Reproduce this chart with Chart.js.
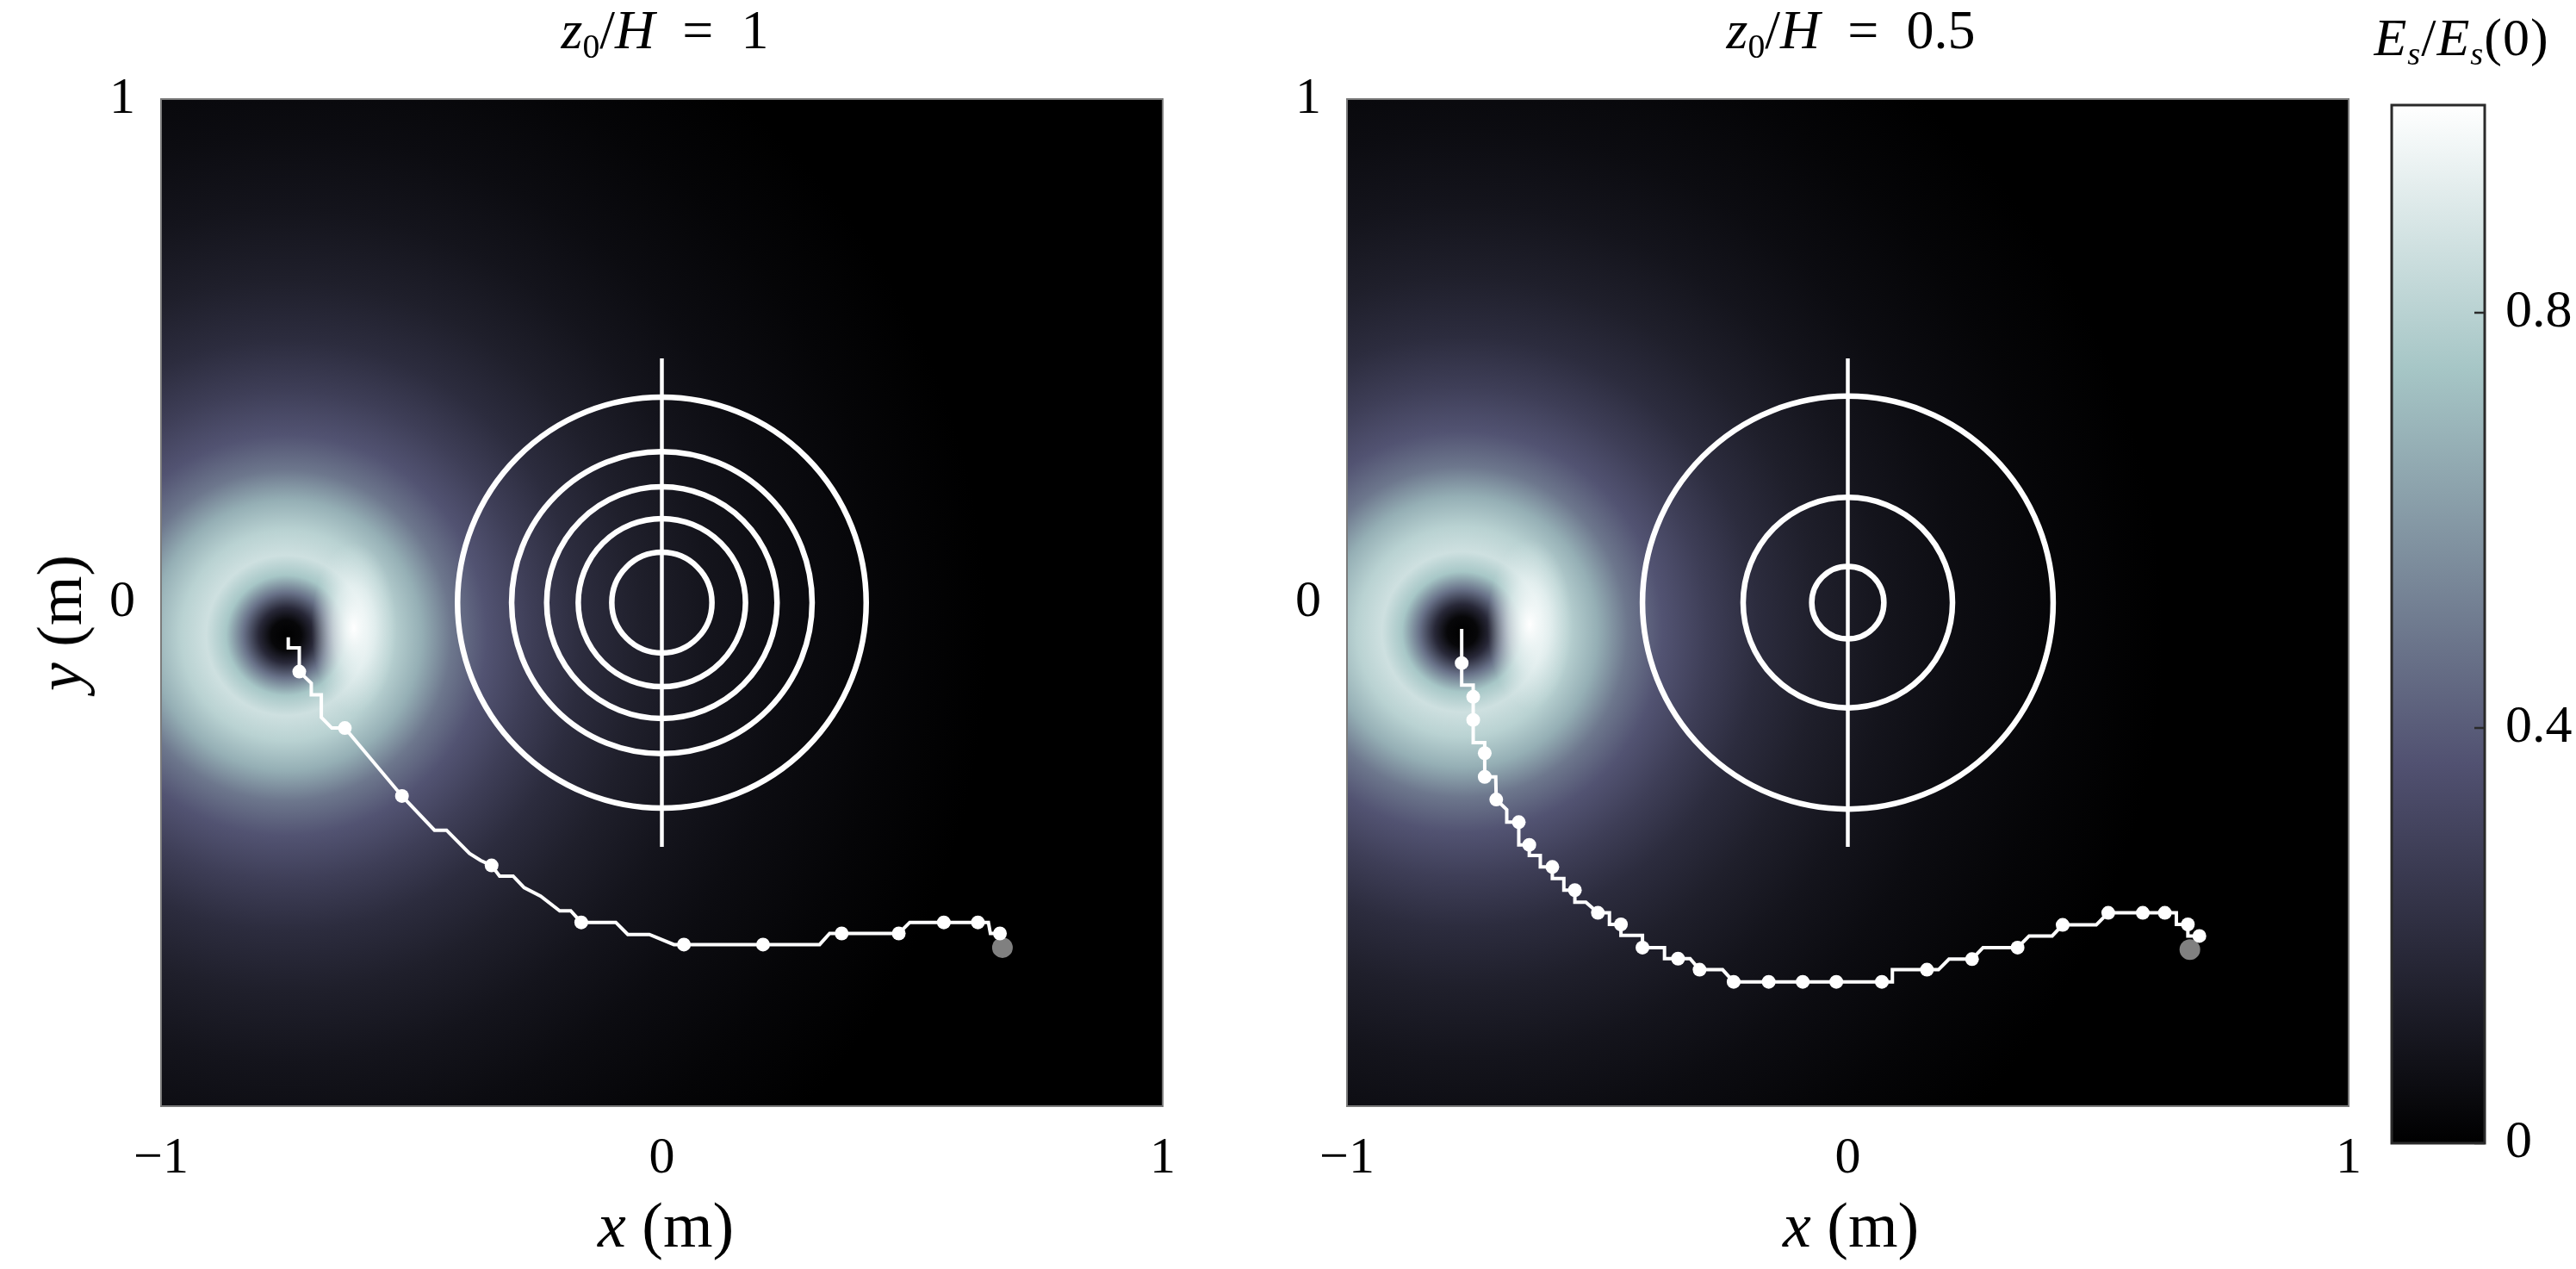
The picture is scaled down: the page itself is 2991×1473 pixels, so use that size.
<!DOCTYPE html>
<html>
<head>
<meta charset="utf-8">
<script src="https://cdn.jsdelivr.net/npm/chart.js@4.4.0/dist/chart.umd.min.js"></script>
<style>
  html, body { margin: 0; padding: 0; background: #fff; }
  body { width: 2991px; height: 1473px; position: relative; overflow: hidden;
         font-family: 'Liberation Serif', 'Times New Roman', serif; color: #000; }
  canvas { position: absolute; top: 0; }
  .lbl { position: absolute; white-space: nowrap; line-height: 1; transform: translateX(-50%); }
  .lbl sub { font-size: 0.62em; vertical-align: -0.28em; font-style: normal; line-height: 0; }
  .eq { margin: 0 0.5em; }
</style>
</head>
<body>
<canvas id="left" width="1390" height="1473" style="left:0px"></canvas>
<canvas id="right" width="1390" height="1473" style="left:1377px"></canvas>
<canvas id="cbar" width="291" height="1473" style="left:2700px"></canvas>

<div class="lbl" style="left:772px; top:3px; font-size:64px"><i>z</i><sub>0</sub>/<i>H</i><span class="eq">=</span>1</div>
<div class="lbl" style="left:2149px; top:3px; font-size:64px"><i>z</i><sub>0</sub>/<i>H</i><span class="eq">=</span>0.5</div>
<div class="lbl" style="left:2858px; top:12px; font-size:62px; letter-spacing:1px"><i>E</i><sub><i>s</i></sub>/<i>E</i><sub><i>s</i></sub>(0)</div>
<div class="lbl" style="left:773px; top:1385px; font-size:74px"><i>x</i> (m)</div>
<div class="lbl" style="left:2149px; top:1385px; font-size:74px"><i>x</i> (m)</div>
<div class="lbl" style="left:69px; top:723px; font-size:74px; transform: translate(-50%, -50%) rotate(-90deg)"><i>y</i> (m)</div>

<script>
// axis ticks
const xTicks = [-1, 0, 1];
const yTicks = [0, 1];
const cbarTicks = [0, 0.4, 0.8];

// z0/H = 1 : robot path (with the step corners) and sampled positions
const pathX1 = [-0.746, -0.746, -0.724, -0.724, -0.700, -0.700, -0.680, -0.680, -0.659, -0.633, -0.519, -0.454, -0.430,
  -0.384, -0.362, -0.340, -0.324, -0.297, -0.275, -0.242, -0.204, -0.182, -0.161, -0.092, -0.068, -0.025, 0.024,
  0.044, 0.202, 0.315, 0.335, 0.359, 0.473, 0.495, 0.563, 0.631, 0.652, 0.656, 0.675];
const pathY1 = [-0.069, -0.090, -0.090, -0.137, -0.160, -0.183, -0.183, -0.228, -0.249, -0.249, -0.384, -0.452, -0.452,
  -0.498, -0.512, -0.522, -0.543, -0.543, -0.566, -0.583, -0.612, -0.612, -0.635, -0.635, -0.659, -0.659, -0.679,
  -0.679, -0.679, -0.679, -0.657, -0.657, -0.657, -0.635, -0.635, -0.635, -0.635, -0.657, -0.657];
const dotX1 = [-0.724, -0.633, -0.519, -0.340, -0.161, 0.044, 0.202, 0.359, 0.473, 0.563, 0.631, 0.675];
const dotY1 = [-0.137, -0.249, -0.384, -0.522, -0.635, -0.679, -0.679, -0.657, -0.657, -0.635, -0.635, -0.657];
const endX1 = [0.680];
const endY1 = [-0.685];
const ringR1 = [0.100, 0.167, 0.230, 0.300, 0.408];
const vortex1 = [-0.750, -0.065];

// z0/H = 0.5
const pathX2 = [-0.771, -0.771, -0.771, -0.748, -0.748, -0.748, -0.748, -0.725, -0.725, -0.725, -0.703, -0.702,
  -0.681, -0.681, -0.657, -0.657, -0.636, -0.636, -0.614, -0.614, -0.590, -0.590, -0.567, -0.567, -0.545, -0.545,
  -0.523, -0.499, -0.476, -0.476, -0.453, -0.453, -0.410, -0.410, -0.366, -0.366, -0.339, -0.315, -0.296, -0.250,
  -0.228, -0.158, -0.090, -0.023, 0.068, 0.089, 0.089, 0.158, 0.181, 0.202, 0.248, 0.270, 0.339, 0.362, 0.408,
  0.429, 0.496, 0.520, 0.589, 0.633, 0.656, 0.656, 0.679, 0.679, 0.702];
const pathY2 = [-0.052, -0.120, -0.164, -0.164, -0.187, -0.233, -0.278, -0.278, -0.299, -0.346, -0.346, -0.391,
  -0.411, -0.436, -0.436, -0.481, -0.481, -0.502, -0.502, -0.525, -0.525, -0.548, -0.548, -0.571, -0.571, -0.595,
  -0.595, -0.616, -0.616, -0.639, -0.639, -0.661, -0.661, -0.685, -0.685, -0.707, -0.707, -0.707, -0.729, -0.729,
  -0.753, -0.753, -0.753, -0.753, -0.753, -0.753, -0.729, -0.729, -0.729, -0.708, -0.708, -0.685, -0.685, -0.662,
  -0.662, -0.640, -0.640, -0.616, -0.616, -0.616, -0.616, -0.639, -0.639, -0.662, -0.662];
const dotX2 = [-0.771, -0.748, -0.748, -0.725, -0.725, -0.702, -0.657, -0.636, -0.590, -0.545, -0.499, -0.453,
  -0.410, -0.339, -0.296, -0.228, -0.158, -0.090, -0.023, 0.068, 0.158, 0.248, 0.339, 0.429, 0.520, 0.589,
  0.633, 0.679, 0.702];
const dotY2 = [-0.120, -0.187, -0.233, -0.299, -0.346, -0.391, -0.436, -0.481, -0.525, -0.571, -0.616, -0.639,
  -0.685, -0.707, -0.729, -0.753, -0.753, -0.753, -0.753, -0.753, -0.729, -0.708, -0.685, -0.640, -0.616, -0.616,
  -0.616, -0.639, -0.662];
const endX2 = [0.683];
const endY2 = [-0.689];
const ringR2 = [0.072, 0.209, 0.410];
const vortex2 = [-0.770, -0.058];

// vertical segment through the ring centre
const axisLineX = [0, 0];
const axisLineY = [-0.485, 0.485];

// E_s/E_s(0) against distance from the vortex centre (m)
const fieldR = [0.00, 0.03, 0.055, 0.085, 0.12, 0.16, 0.21, 0.27, 0.33, 0.40, 0.49, 0.59, 0.71, 0.85, 1.00, 1.20, 1.40];
const fieldLevel = [0.00, 0.03, 0.18, 0.47, 0.75, 0.86, 0.80, 0.67, 0.49, 0.37, 0.28, 0.20, 0.14, 0.09, 0.055, 0.022, 0.0];

// matplotlib "bone"
const boneStops = [0, 0.365079, 0.746032, 1];
const boneRGB = [[0, 0, 0], [81, 81, 113], [166, 198, 198], [255, 255, 255]];

function bone(t) {
  t = Math.max(0, Math.min(1, t));
  let i = 0;
  while (i < boneStops.length - 2 && t > boneStops[i + 1]) i++;
  const f = (t - boneStops[i]) / (boneStops[i + 1] - boneStops[i]);
  const c = boneRGB[i].map((v, k) => Math.round(v + (boneRGB[i + 1][k] - v) * f));
  return `rgb(${c[0]}, ${c[1]}, ${c[2]})`;
}

function pts(xs, ys) {
  return xs.map((x, i) => ({ x: x, y: ys[i] }));
}

function fmt(v) {
  return v < 0 ? '\u2212' + Math.abs(v) : String(v);
}

const tickFont = { family: 'Liberation Serif', size: 60 };

// background field, rings and frame of a panel
const fieldPlugin = {
  id: 'field',
  beforeDatasetsDraw(chart, args, opts) {
    const { ctx, chartArea: a, scales: { x, y } } = chart;
    ctx.save();
    ctx.beginPath();
    ctx.rect(a.left, a.top, a.width, a.height);
    ctx.clip();
    ctx.fillStyle = '#000';
    ctx.fillRect(a.left, a.top, a.width, a.height);

    const cx = x.getPixelForValue(opts.vortex[0]);
    const cy = y.getPixelForValue(opts.vortex[1]);
    const rMax = fieldR[fieldR.length - 1];
    const R = x.getPixelForValue(opts.vortex[0] + rMax) - cx;
    const g = ctx.createRadialGradient(cx, cy, 0, cx, cy, R);
    fieldR.forEach((r, i) => g.addColorStop(r / rMax, bone(fieldLevel[i])));
    ctx.fillStyle = g;
    ctx.fillRect(a.left, a.top, a.width, a.height);

    // brighter side of the ring
    const hx = x.getPixelForValue(opts.vortex[0] + 0.135);
    const hy = y.getPixelForValue(opts.vortex[1] + 0.015);
    const hr = x.getPixelForValue(0.085) - x.getPixelForValue(0);
    ctx.save();
    ctx.translate(hx, hy);
    ctx.scale(1, 2.0);
    const hg = ctx.createRadialGradient(0, 0, 0, 0, 0, hr);
    hg.addColorStop(0, 'rgba(255,255,255,1)');
    hg.addColorStop(0.5, 'rgba(242,249,249,0.6)');
    hg.addColorStop(1, 'rgba(220,235,235,0)');
    ctx.fillStyle = hg;
    ctx.beginPath();
    ctx.arc(0, 0, hr, 0, Math.PI * 2);
    ctx.fill();
    ctx.restore();

    // rings
    const x0 = x.getPixelForValue(0);
    const y0 = y.getPixelForValue(0);
    ctx.strokeStyle = '#fff';
    ctx.lineWidth = 6.5;
    opts.rings.forEach(r => {
      const rx = x.getPixelForValue(r) - x0;
      const ry = y0 - y.getPixelForValue(r);
      ctx.beginPath();
      ctx.ellipse(x0, y0, rx, ry, 0, 0, Math.PI * 2);
      ctx.stroke();
    });
    ctx.restore();
  },
  afterDraw(chart) {
    const { ctx, chartArea: a } = chart;
    ctx.save();
    ctx.strokeStyle = '#7a7a7a';
    ctx.lineWidth = 2;
    ctx.strokeRect(a.left, a.top, a.width, a.height);
    ctx.restore();
  }
};

function panel(id, p, padRight) {
  return new Chart(document.getElementById(id), {
    type: 'scatter',
    data: {
      datasets: [
        { data: pts(p.dotX, p.dotY), pointRadius: 8, backgroundColor: '#fff', borderWidth: 0 },
        { data: pts(p.pathX, p.pathY), showLine: true, borderColor: '#fff', borderWidth: 4,
          pointRadius: 0, tension: 0 },
        { data: pts(p.endX, p.endY), pointRadius: 12, backgroundColor: '#808080', borderWidth: 0 },
        { data: pts(axisLineX, axisLineY), showLine: true, borderColor: '#fff', borderWidth: 4.5,
          pointRadius: 0 }
      ]
    },
    options: {
      responsive: false,
      animation: false,
      devicePixelRatio: 1,
      events: [],
      layout: { padding: { left: 0, top: 115, right: padRight, bottom: 0 } },
      plugins: {
        legend: { display: false },
        tooltip: { enabled: false },
        field: { vortex: p.vortex, rings: p.rings }
      },
      scales: {
        x: {
          type: 'linear', min: -1, max: 1,
          grid: { display: false, drawTicks: false },
          border: { display: false },
          afterBuildTicks: s => { s.ticks = xTicks.map(v => ({ value: v })); },
          afterFit: s => { s.height = 189; },
          ticks: { font: tickFont, color: '#000', padding: 25, maxRotation: 0, callback: v => fmt(v) }
        },
        y: {
          type: 'linear', min: -1, max: 1,
          grid: { display: false, drawTicks: false },
          border: { display: false },
          afterBuildTicks: s => { s.ticks = yTicks.map(v => ({ value: v })); },
          afterFit: s => { s.width = 187; },
          ticks: { font: tickFont, color: '#000', padding: 30, callback: v => fmt(v) }
        }
      }
    },
    plugins: [fieldPlugin]
  });
}

panel('left', { pathX: pathX1, pathY: pathY1, dotX: dotX1, dotY: dotY1, endX: endX1, endY: endY1,
  rings: ringR1, vortex: vortex1 }, 31);
panel('right', { pathX: pathX2, pathY: pathY2, dotX: dotX2, dotY: dotY2, endX: endX2, endY: endY2,
  rings: ringR2, vortex: vortex2 }, 33);

// colour bar
const cbarPlugin = {
  id: 'cbar',
  beforeDatasetsDraw(chart) {
    const { ctx, chartArea: a } = chart;
    const g = ctx.createLinearGradient(0, a.bottom, 0, a.top);
    boneStops.forEach(s => g.addColorStop(s, bone(s)));
    ctx.fillStyle = g;
    ctx.fillRect(a.left, a.top, a.width, a.height);
  },
  afterDraw(chart) {
    const { ctx, chartArea: a, scales: { y } } = chart;
    ctx.save();
    ctx.strokeStyle = '#2a2a2a';
    ctx.lineWidth = 3;
    ctx.strokeRect(a.left, a.top, a.width, a.height);
    ctx.lineWidth = 2.5;
    cbarTicks.forEach(v => {
      const py = y.getPixelForValue(v);
      ctx.beginPath();
      ctx.moveTo(a.right - 12, py);
      ctx.lineTo(a.right, py);
      ctx.stroke();
    });
    ctx.restore();
  }
};

new Chart(document.getElementById('cbar'), {
  type: 'scatter',
  data: { datasets: [] },
  options: {
    responsive: false,
    animation: false,
    devicePixelRatio: 1,
    events: [],
    layout: { padding: { left: 77, top: 122, right: 0, bottom: 146 } },
    plugins: { legend: { display: false }, tooltip: { enabled: false } },
    scales: {
      x: { display: false, min: 0, max: 1 },
      y: {
        position: 'right', min: 0, max: 1,
        grid: { display: false, drawTicks: false },
        border: { display: false },
        afterBuildTicks: s => { s.ticks = cbarTicks.map(v => ({ value: v })); },
        afterFit: s => { s.width = 106; },
        ticks: { font: { family: 'Liberation Serif', size: 62 }, color: '#000', padding: 24,
                 callback: v => String(v) }
      }
    }
  },
  plugins: [cbarPlugin]
});
</script>
</body>
</html>
